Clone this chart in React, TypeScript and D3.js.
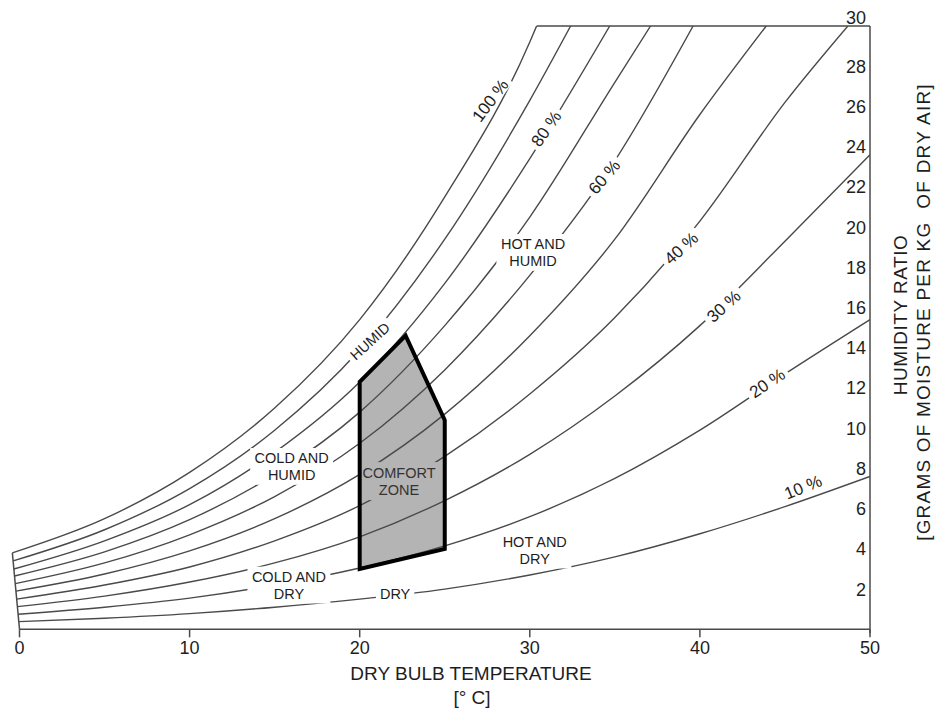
import { useMemo } from "react";
import * as d3 from "d3";

const W = 936;
const H = 711;

// dry bulb temperature samples (°C)
const temps = [0, 5, 10, 15, 20, 25, 30, 35, 40, 45, 50];
const rhLevels = [100, 90, 80, 70, 60, 50, 40, 30, 20, 10];
// humidity ratio (g/kg) at the temps above
const ratios = [
  [3.8, 5.5, 7.8, 11.0, 15.4, 21.5, 29.2],
  [3.4, 4.95, 7.0, 9.9, 13.9, 19.4, 26.3],
  [3.0, 4.4, 6.2, 8.8, 12.3, 17.2, 23.4],
  [2.65, 3.85, 5.45, 7.7, 10.8, 15.1, 20.5, 27.2],
  [2.27, 3.3, 4.7, 6.6, 9.25, 12.9, 17.6, 23.3],
  [1.9, 2.75, 3.9, 5.5, 7.7, 10.7, 14.6, 19.4, 25.6],
  [1.5, 2.2, 3.1, 4.4, 6.15, 8.6, 11.7, 15.5, 20.3, 26.2],
  [1.13, 1.65, 2.35, 3.3, 4.6, 6.4, 8.7, 11.6, 15.1, 19.3, 23.6],
  [0.75, 1.1, 1.55, 2.2, 3.05, 4.15, 5.6, 7.5, 9.9, 12.7, 15.4],
  [0.38, 0.55, 0.78, 1.1, 1.5, 2.0, 2.7, 3.6, 4.75, 6.1, 7.6],
];
// temperature where a curve meets the 30 g/kg top edge
const topCrossT = [30.4, 32.4, 34.7, 37.1, 39.6, 43.9, 48.7, null, null, null];
// left edge of the chart is slightly slanted
const leftEdge = [[0, 0], [-0.42, 3.8]];

const comfortZone = [[20, 3.0], [20, 12.3], [22.7, 14.6], [25, 10.4], [25, 4.0]];

const xTicks = [0, 10, 20, 30, 40, 50];
const yTicks = [2, 4, 6, 8, 10, 12, 14, 16, 18, 20, 22, 24, 26, 28, 30];

const pctLabels = [
  { text: "100 %", t: 27.66, w: 26.3, angle: -53 },
  { text: "80 %", t: 30.95, w: 24.9, angle: -55 },
  { text: "60 %", t: 34.36, w: 22.5, angle: -50 },
  { text: "40 %", t: 38.89, w: 18.96, angle: -42 },
  { text: "30 %", t: 41.39, w: 16.08, angle: -42 },
  { text: "20 %", t: 43.95, w: 12.25, angle: -34 },
  { text: "10 %", t: 46.06, w: 7.08, angle: -22 },
];

const regionLabels = [
  { lines: ["HOT AND", "HUMID"], t: 30.19, w: 18.74, angle: 0 },
  { lines: ["HUMID"], t: 20.6, w: 14.33, angle: -42 },
  { lines: ["COLD AND", "HUMID"], t: 16.0, w: 8.1, angle: 0 },
  { lines: ["COLD AND", "DRY"], t: 15.84, w: 2.2, angle: 0 },
  { lines: ["DRY"], t: 22.08, w: 1.75, angle: 0 },
  { lines: ["HOT AND", "DRY"], t: 30.29, w: 3.94, angle: 0 },
];

const FONT = "'Liberation Sans', Arial, Helvetica, sans-serif";
const LINE = "#4a4a4a";
const TEXT = "#1e1e1e";

let canvas: HTMLCanvasElement | null = null;
function textWidth(s: string, size: number) {
  if (!canvas) canvas = document.createElement("canvas");
  const ctx = canvas.getContext("2d")!;
  ctx.font = `${size}px 'Liberation Sans', Arial`;
  return ctx.measureText(s).width;
}

export default function App() {
  const x = useMemo(() => d3.scaleLinear().domain([0, 50]).range([19.5, 870]), []);
  const y = useMemo(() => d3.scaleLinear().domain([0, 30]).range([629.3, 26]), []);

  const line = d3
    .line<number[]>()
    .x((d) => x(d[0]))
    .y((d) => y(d[1]))
    .curve(d3.curveMonotoneX);

  const slope = (leftEdge[1][0] - leftEdge[0][0]) / (leftEdge[1][1] - leftEdge[0][1]);

  const curves = rhLevels.map((rh, i) => {
    const vals = ratios[i];
    const pts: number[][] = vals.map((v, j) => [temps[j], v]);
    pts[0] = [slope * vals[0], vals[0]];
    const tc = topCrossT[i];
    if (tc != null) pts.push([tc, 30]);
    return { rh, d: line(pts) };
  });

  const regionSize = 14.5;
  const pctSize = 17;
  const zone = comfortZone.map((p) => `${x(p[0])},${y(p[1])}`).join(" ");

  return (
    <svg
      width={W}
      height={H}
      style={{ position: "absolute", left: 0, top: 0, background: "#fff" }}
      fontFamily={FONT}
    >
      <defs>
        <clipPath id="plot">
          <rect x={0} y={y(30)} width={x(50)} height={y(0) - y(30)} />
        </clipPath>
      </defs>

      <polygon points={zone} fill="#b4b4b4" />

      <g clipPath="url(#plot)" fill="none" stroke={LINE} strokeWidth={1.4}>
        {curves.map((c) => (
          <path key={c.rh} d={c.d ?? ""} />
        ))}
      </g>

      {/* frame */}
      <g stroke={LINE} strokeWidth={1.5} fill="none">
        <line x1={x(topCrossT[0]!)} x2={x(50)} y1={y(30)} y2={y(30)} />
        <line x1={x(50)} x2={x(50)} y1={y(30)} y2={y(0) + 4} />
        <line x1={x(0)} x2={x(50)} y1={y(0)} y2={y(0)} />
        <line
          x1={x(leftEdge[0][0])}
          y1={y(leftEdge[0][1])}
          x2={x(leftEdge[1][0])}
          y2={y(leftEdge[1][1])}
        />
        {xTicks.map((t) => (
          <line key={t} x1={x(t)} x2={x(t)} y1={y(0)} y2={y(0) + 8} />
        ))}
      </g>

      {/* gaps in the curves behind labels */}
      {pctLabels.map((l) => {
        const tw = textWidth(l.text, pctSize) + 8;
        return (
          <rect
            key={"m" + l.text}
            x={-tw / 2}
            y={-pctSize * 0.45}
            width={tw}
            height={pctSize * 0.9}
            fill="#fff"
            transform={`translate(${x(l.t)},${y(l.w)}) rotate(${l.angle})`}
          />
        );
      })}
      {regionLabels.map((l, i) => {
        const tw = Math.max(...l.lines.map((s) => textWidth(s, regionSize))) + 8;
        const th = l.lines.length * regionSize * 1.2 + 2;
        return (
          <rect
            key={"r" + i}
            x={-tw / 2}
            y={-th / 2}
            width={tw}
            height={th}
            fill="#fff"
            transform={`translate(${x(l.t)},${y(l.w)}) rotate(${l.angle})`}
          />
        );
      })}
      <rect x={x(22.31) - 40} y={y(7.37) - 19} width={80} height={38} fill="#b4b4b4" />

      <polygon
        points={zone}
        fill="none"
        stroke="#000"
        strokeWidth={4}
        strokeLinejoin="miter"
      />

      {pctLabels.map((l) => (
        <text
          key={l.text}
          transform={`translate(${x(l.t)},${y(l.w)}) rotate(${l.angle})`}
          textAnchor="middle"
          dy="0.36em"
          fontSize={pctSize}
          fill={TEXT}
        >
          {l.text}
        </text>
      ))}

      {regionLabels.map((l, i) => (
        <text
          key={"t" + i}
          transform={`translate(${x(l.t)},${y(l.w)}) rotate(${l.angle})`}
          textAnchor="middle"
          fontSize={regionSize}
          fill={TEXT}
        >
          {l.lines.map((s, k) => (
            <tspan
              key={k}
              x={0}
              y={(k - (l.lines.length - 1) / 2) * regionSize * 1.2}
              dy="0.36em"
            >
              {s}
            </tspan>
          ))}
        </text>
      ))}
      <text
        transform={`translate(${x(22.31)},${y(7.37)})`}
        textAnchor="middle"
        fontSize={regionSize}
        fill="#333"
      >
        <tspan x={0} y={-8.5} dy="0.36em">COMFORT</tspan>
        <tspan x={0} y={8.5} dy="0.36em">ZONE</tspan>
      </text>

      {xTicks.map((t) => (
        <text
          key={"x" + t}
          x={x(t)}
          y={648}
          dy="0.36em"
          textAnchor="middle"
          fontSize={18}
          fill={TEXT}
        >
          {t}
        </text>
      ))}
      {yTicks.map((v) => (
        <text
          key={"y" + v}
          x={866}
          y={v === 30 ? y(v) - 8 : y(v)}
          dy="0.36em"
          textAnchor="end"
          fontSize={18}
          fill={TEXT}
        >
          {v}
        </text>
      ))}
      <text x={471} y={673} dy="0.36em" textAnchor="middle" fontSize={19} fill={TEXT}>
        DRY BULB TEMPERATURE
      </text>
      <text x={472} y={697} dy="0.36em" textAnchor="middle" fontSize={19} fill={TEXT}>
        [° C]
      </text>
      <text
        transform="translate(900,315) rotate(-90)"
        dy="0.36em"
        textAnchor="middle"
        fontSize={19}
        letterSpacing={0.5}
        fill={TEXT}
      >
        HUMIDITY RATIO
      </text>
      <text
        transform="translate(923,312) rotate(-90)"
        dy="0.36em"
        textAnchor="middle"
        fontSize={19}
        letterSpacing={1.2}
        fill={TEXT}
        style={{ whiteSpace: "pre" }}
      >
        [GRAMS OF MOISTURE PER KG  OF DRY AIR]
      </text>
    </svg>
  );
}
